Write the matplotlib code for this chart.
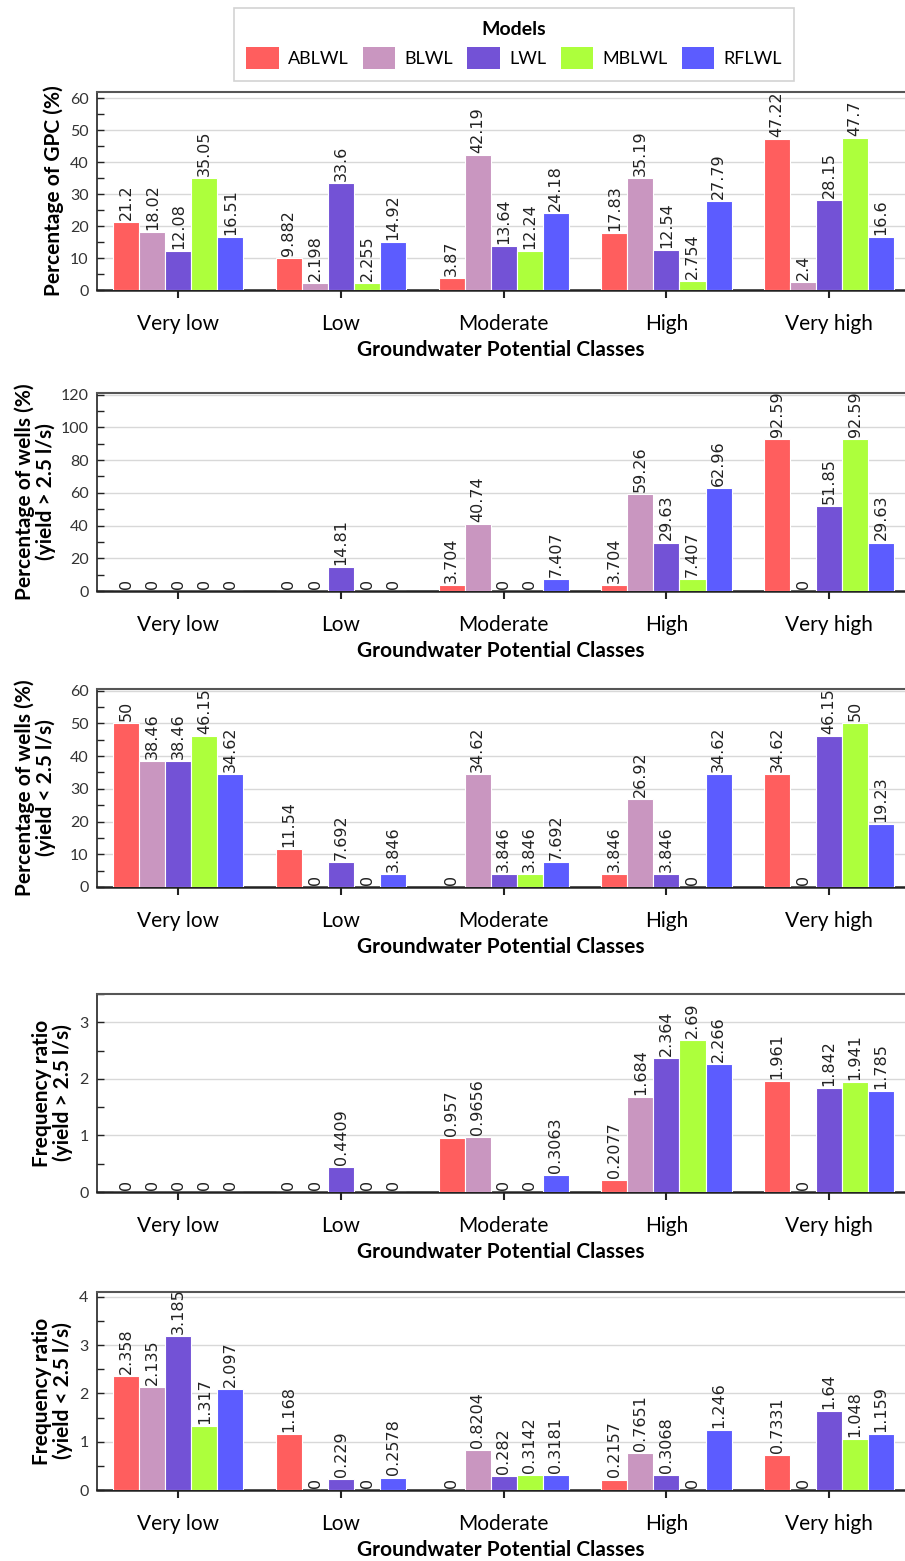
import numpy as np
import matplotlib
matplotlib.use('Agg')
import matplotlib.pyplot as plt
from matplotlib.patches import Patch
from matplotlib.ticker import MultipleLocator

plt.rcParams['font.family'] = ['Lato', 'DejaVu Sans']

# data
classes = ['Very low', 'Low', 'Moderate', 'High', 'Very high']
models = ['ABLWL', 'BLWL', 'LWL', 'MBLWL', 'RFLWL']
colors = ['#ff5e5e', '#c996c0', '#7352d6', '#adff3c', '#5c5cff']

# rows = models, columns = classes
gpc_pct = [[21.2, 9.882, 3.87, 17.83, 47.22],
           [18.02, 2.198, 42.19, 35.19, 2.4],
           [12.08, 33.6, 13.64, 12.54, 28.15],
           [35.05, 2.255, 12.24, 2.754, 47.7],
           [16.51, 14.92, 24.18, 27.79, 16.6]]

wells_hi_pct = [[0, 0, 3.704, 3.704, 92.59],
                [0, 0, 40.74, 59.26, 0],
                [0, 14.81, 0, 29.63, 51.85],
                [0, 0, 0, 7.407, 92.59],
                [0, 0, 7.407, 62.96, 29.63]]

wells_lo_pct = [[50, 11.54, 0, 3.846, 34.62],
                [38.46, 0, 34.62, 26.92, 0],
                [38.46, 7.692, 3.846, 3.846, 46.15],
                [46.15, 0, 3.846, 0, 50],
                [34.62, 3.846, 7.692, 34.62, 19.23]]

fr_hi = [[0, 0, 0.957, 0.2077, 1.961],
         [0, 0, 0.9656, 1.684, 0],
         [0, 0.4409, 0, 2.364, 1.842],
         [0, 0, 0, 2.69, 1.941],
         [0, 0, 0.3063, 2.266, 1.785]]

fr_lo = [[2.358, 1.168, 0, 0.2157, 0.7331],
         [2.135, 0, 0.8204, 0.7651, 0],
         [3.185, 0.229, 0.282, 0.3068, 1.64],
         [1.317, 0, 0.3142, 0, 1.048],
         [2.097, 0.2578, 0.3181, 1.246, 1.159]]

ylabels = ['Percentage of GPC (%)',
           'Percentage of wells (%)\n(yield > 2.5 l/s)',
           'Percentage of wells (%)\n(yield < 2.5 l/s)',
           'Frequency ratio\n(yield > 2.5 l/s)',
           'Frequency ratio\n(yield < 2.5 l/s)']

W, H = 905, 1561
fig = plt.figure(figsize=(W / 100, H / 100), dpi=100)

# (values, ymax, major step, axes top px, ylabel right edge px)
panels = [(gpc_pct, 62, 10, 92, 64),
          (wells_hi_pct, 121, 20, 393, 56),
          (wells_lo_pct, 60.5, 10, 689, 56),
          (fr_hi, 3.5, 1, 994, 73),
          (fr_lo, 4.1, 1, 1292, 73)]

left_px, ax_h = 97, 198
x = np.arange(len(classes))
pitch = 0.16

for (values, ymax, step, top_px, lab_px), ylab in zip(panels, ylabels):
    ax = fig.add_axes([left_px / W, 1 - (top_px + ax_h) / H, 1 - left_px / W, ax_h / H])
    for i, (m, c) in enumerate(zip(models, colors)):
        bars = ax.bar(x + (i - 2) * pitch, values[i], width=pitch, color=c,
                      edgecolor='white', linewidth=0.8, zorder=3)
        for b, v in zip(bars, values[i]):
            ax.annotate(f'{v:g}', (b.get_x() + b.get_width() / 2, v),
                        xytext=(0, 1.5), textcoords='offset points', rotation=90,
                        ha='center', va='bottom', fontsize=11.5,
                        family='DejaVu Sans', color='#222222', zorder=4)

    ax.set_xlim(-0.5, 4.466)
    ax.set_ylim(0, ymax)
    ax.set_xticks(x, classes, fontsize=15)
    ax.tick_params(axis='x', direction='out', length=6, width=1.5, pad=11, color='#222222')
    ax.yaxis.set_major_locator(MultipleLocator(step))
    ax.yaxis.set_minor_locator(MultipleLocator(step / 2))
    ax.tick_params(axis='y', which='both', direction='in', length=5, width=1,
                   labelsize=11.5, pad=6, color='#222222', labelcolor='#333333')
    ax.grid(axis='y', color='#d8d8d8', lw=1)
    ax.set_axisbelow(True)

    ax.spines['right'].set_visible(False)
    ax.spines['top'].set_color('#555555')
    ax.spines['top'].set_linewidth(1.5)
    ax.spines['left'].set_color('#222222')
    ax.spines['left'].set_linewidth(1.2)
    ax.spines['bottom'].set_color('#222222')
    ax.spines['bottom'].set_linewidth(1.8)

    ax.set_ylabel(ylab, fontsize=15, fontweight='bold', linespacing=1.0)
    ax.yaxis.set_label_coords((lab_px - left_px) / (W - left_px), 0.5)
    ax.set_xlabel('Groundwater Potential Classes', fontsize=15, fontweight='bold')
    ax.xaxis.label.set_va('center')
    ax.xaxis.set_label_coords((501 - left_px) / (W - left_px), -60 / ax_h)

handles = [Patch(facecolor=c, edgecolor='none', label=m) for m, c in zip(models, colors)]
leg = fig.legend(handles=handles, loc='upper center', bbox_to_anchor=(514 / W, 1 - 8 / H),
                 ncol=5, title='Models', title_fontproperties={'weight': 'bold', 'size': 14},
                 fontsize=13, frameon=True, fancybox=False, edgecolor='#c8c8c8',
                 handlelength=1.8, handleheight=1.5, handletextpad=0.5,
                 columnspacing=0.8, borderpad=0.7, borderaxespad=0)
leg.get_frame().set_linewidth(1.2)

fig.savefig('out.png', dpi=100)
